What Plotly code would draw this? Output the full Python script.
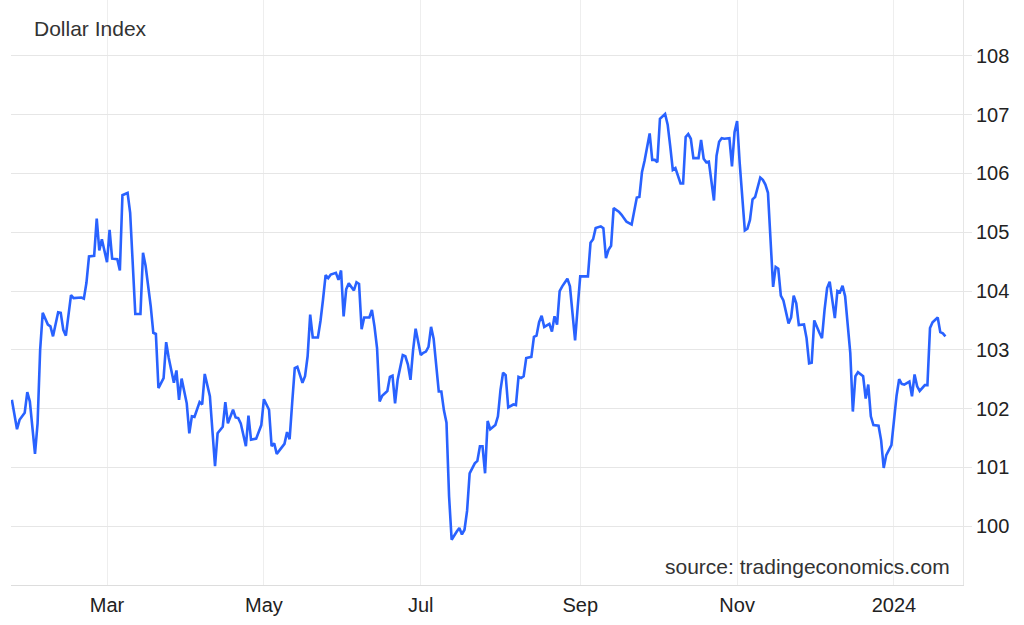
import plotly.graph_objects as go

# ---- data ----
dates = [
    "2023-01-23", "2023-01-25", "2023-01-26", "2023-01-28", "2023-01-29", "2023-01-30",
    "2023-02-01", "2023-02-02", "2023-02-03", "2023-02-04", "2023-02-06", "2023-02-07", "2023-02-08",
    "2023-02-10", "2023-02-11", "2023-02-12", "2023-02-13", "2023-02-15", "2023-02-16", "2023-02-17",
    "2023-02-19", "2023-02-20", "2023-02-21", "2023-02-22", "2023-02-24", "2023-02-25", "2023-02-26",
    "2023-02-27",
    "2023-03-01", "2023-03-02", "2023-03-03", "2023-03-05", "2023-03-06", "2023-03-07", "2023-03-09",
    "2023-03-10", "2023-03-11", "2023-03-12", "2023-03-14", "2023-03-15", "2023-03-16", "2023-03-18",
    "2023-03-19", "2023-03-20", "2023-03-21", "2023-03-23", "2023-03-24", "2023-03-25", "2023-03-27",
    "2023-03-28", "2023-03-29", "2023-03-30",
    "2023-04-01", "2023-04-02", "2023-04-03", "2023-04-04", "2023-04-06", "2023-04-07", "2023-04-08",
    "2023-04-10", "2023-04-12", "2023-04-13", "2023-04-15", "2023-04-16", "2023-04-17", "2023-04-19",
    "2023-04-20", "2023-04-21", "2023-04-22", "2023-04-24", "2023-04-25", "2023-04-26", "2023-04-28",
    "2023-04-29", "2023-04-30",
    "2023-05-01", "2023-05-03", "2023-05-04", "2023-05-05", "2023-05-06", "2023-05-08", "2023-05-09",
    "2023-05-10", "2023-05-11", "2023-05-12", "2023-05-13", "2023-05-14", "2023-05-16", "2023-05-17",
    "2023-05-18", "2023-05-19", "2023-05-20", "2023-05-22", "2023-05-23", "2023-05-24", "2023-05-25",
    "2023-05-26", "2023-05-27", "2023-05-29", "2023-05-30", "2023-05-31",
    "2023-06-01", "2023-06-02", "2023-06-03", "2023-06-05", "2023-06-06", "2023-06-07", "2023-06-08",
    "2023-06-09", "2023-06-11", "2023-06-12", "2023-06-13", "2023-06-14", "2023-06-15", "2023-06-16",
    "2023-06-18", "2023-06-19", "2023-06-20", "2023-06-21", "2023-06-22", "2023-06-24", "2023-06-25",
    "2023-06-26", "2023-06-27", "2023-06-28", "2023-06-29",
    "2023-07-01", "2023-07-02", "2023-07-03", "2023-07-04", "2023-07-05", "2023-07-06", "2023-07-08",
    "2023-07-09", "2023-07-10", "2023-07-11", "2023-07-12", "2023-07-13", "2023-07-15", "2023-07-16",
    "2023-07-17", "2023-07-18", "2023-07-19", "2023-07-20", "2023-07-22", "2023-07-23", "2023-07-24",
    "2023-07-25", "2023-07-26", "2023-07-27", "2023-07-28", "2023-07-30", "2023-07-31",
    "2023-08-01", "2023-08-02", "2023-08-03", "2023-08-04", "2023-08-06", "2023-08-07", "2023-08-08",
    "2023-08-09", "2023-08-10", "2023-08-11", "2023-08-13", "2023-08-14", "2023-08-15", "2023-08-16",
    "2023-08-17", "2023-08-18", "2023-08-20", "2023-08-21", "2023-08-22", "2023-08-23", "2023-08-24",
    "2023-08-25", "2023-08-27", "2023-08-28", "2023-08-29", "2023-08-30", "2023-08-31",
    "2023-09-01", "2023-09-03", "2023-09-04", "2023-09-05", "2023-09-06", "2023-09-07", "2023-09-09",
    "2023-09-10", "2023-09-11", "2023-09-12", "2023-09-13", "2023-09-14", "2023-09-16", "2023-09-17",
    "2023-09-18", "2023-09-19", "2023-09-21", "2023-09-22", "2023-09-23", "2023-09-24", "2023-09-25",
    "2023-09-26", "2023-09-28", "2023-09-29", "2023-09-30",
    "2023-10-01", "2023-10-02", "2023-10-04", "2023-10-05", "2023-10-06", "2023-10-07", "2023-10-08",
    "2023-10-10", "2023-10-11", "2023-10-12", "2023-10-13", "2023-10-14", "2023-10-15", "2023-10-17",
    "2023-10-18", "2023-10-19", "2023-10-20", "2023-10-21", "2023-10-23", "2023-10-24", "2023-10-25",
    "2023-10-26", "2023-10-27", "2023-10-29", "2023-10-30", "2023-10-31",
    "2023-11-01", "2023-11-02", "2023-11-04", "2023-11-05", "2023-11-06", "2023-11-07", "2023-11-08",
    "2023-11-10", "2023-11-11", "2023-11-12", "2023-11-13", "2023-11-15", "2023-11-16", "2023-11-17",
    "2023-11-18", "2023-11-19", "2023-11-21", "2023-11-22", "2023-11-23", "2023-11-24", "2023-11-25",
    "2023-11-27", "2023-11-28", "2023-11-29", "2023-11-30",
    "2023-12-01", "2023-12-03", "2023-12-04", "2023-12-05", "2023-12-06", "2023-12-07", "2023-12-09",
    "2023-12-10", "2023-12-11", "2023-12-12", "2023-12-13", "2023-12-15", "2023-12-16", "2023-12-17",
    "2023-12-18", "2023-12-20", "2023-12-21", "2023-12-22", "2023-12-23", "2023-12-24", "2023-12-26",
    "2023-12-27", "2023-12-28", "2023-12-29", "2023-12-30", "2023-12-31",
    "2024-01-02", "2024-01-03", "2024-01-04", "2024-01-05", "2024-01-07", "2024-01-08", "2024-01-09",
    "2024-01-10", "2024-01-11", "2024-01-13", "2024-01-14", "2024-01-15", "2024-01-16", "2024-01-18",
    "2024-01-19", "2024-01-20", "2024-01-21",
]

dxy = [
    102.15, 101.65, 101.81, 101.93, 102.28, 102.12,
    101.23, 101.75, 103.00, 103.63, 103.43, 103.40, 103.23,
    103.64, 103.63, 103.34, 103.24, 103.93, 103.88, 103.88,
    103.89, 103.87, 104.14, 104.59, 104.60, 105.23, 104.69,
    104.88,
    104.49, 105.04, 104.55, 104.54, 104.35, 105.63, 105.67,
    105.33, 104.54, 103.61, 103.61, 104.65, 104.43, 103.74,
    103.29, 103.27, 102.35, 102.52, 103.13, 102.86, 102.44,
    102.65, 102.15, 102.51,
    102.09, 101.58, 101.87, 101.86, 102.11, 102.07, 102.59,
    102.21, 101.02, 101.58, 101.69, 102.11, 101.75, 101.98,
    101.85, 101.84, 101.75, 101.36, 101.88, 101.47, 101.49,
    101.61, 101.72,
    102.16, 101.98, 101.36, 101.41, 101.23, 101.35, 101.40,
    101.60, 101.48, 102.10, 102.69, 102.71, 102.44, 102.55,
    102.89, 103.60, 103.21, 103.21, 103.49, 103.86, 104.27,
    104.22, 104.28, 104.31, 104.19, 104.35,
    103.57, 104.03, 104.13, 104.01, 104.15, 104.12, 103.35,
    103.55, 103.55, 103.68, 103.40, 103.03, 102.12, 102.22,
    102.30, 102.54, 102.56, 102.09, 102.49, 102.91, 102.89,
    102.75, 102.49, 102.99, 103.36,
    102.91, 102.95, 102.97, 103.05, 103.39, 103.19, 102.29,
    102.29, 101.97, 101.76, 100.51, 99.77, 99.91, 99.97,
    99.86, 99.94, 100.26, 100.90, 101.07, 101.11, 101.36,
    101.36, 100.90, 101.79, 101.65, 101.72, 101.87,
    102.32, 102.61, 102.57, 102.02, 102.07, 102.06, 102.54,
    102.52, 102.55, 102.86, 102.88, 103.22, 103.24, 103.47,
    103.58, 103.39, 103.44, 103.31, 103.57, 103.43, 104.00,
    104.08, 104.21, 104.08, 103.55, 103.16, 103.72,
    104.25, 104.25, 104.25, 104.82, 104.88, 105.07, 105.10,
    105.07, 104.56, 104.70, 104.77, 105.41, 105.35, 105.30,
    105.24, 105.18, 105.13, 105.35, 105.59, 105.60, 106.02,
    106.21, 106.68, 106.23, 106.23,
    106.19, 106.93, 107.01, 106.83, 106.46, 106.06, 106.09,
    105.83, 105.83, 106.62, 106.67, 106.59, 106.26, 106.26,
    106.57, 106.25, 106.19, 106.20, 105.54, 106.30, 106.54,
    106.60, 106.59, 106.60, 106.12, 106.70,
    106.89, 106.18, 105.03, 105.06, 105.21, 105.56, 105.60,
    105.93, 105.89, 105.81, 105.67, 104.07, 104.41, 104.38,
    103.92, 103.84, 103.45, 103.55, 103.92, 103.79, 103.42,
    103.43, 103.20, 102.77, 102.78,
    103.50, 103.29, 103.20, 103.68, 104.05, 104.16, 103.54,
    104.00, 103.98, 104.09, 103.91, 102.95, 101.95, 102.55,
    102.62, 102.55, 102.17, 102.41, 101.87, 101.72, 101.71,
    101.46, 100.99, 101.21, 101.31, 101.38,
    102.22, 102.50, 102.42, 102.41, 102.46, 102.21, 102.58,
    102.38, 102.30, 102.40, 102.40, 103.37, 103.47, 103.55,
    103.30, 103.28, 103.23,
]

tick_dates = ["2023-03-01", "2023-05-01", "2023-07-01", "2023-09-01", "2023-11-01", "2024-01-01"]
tick_labels = ["Mar", "May", "Jul", "Sep", "Nov", "2024"]
y_ticks = [100, 101, 102, 103, 104, 105, 106, 107, 108]

assert len(dates) == len(dxy)

FONT = "Liberation Sans, Arial, sans-serif"

fig = go.Figure()
fig.add_trace(go.Scatter(
    x=dates, y=dxy, mode="lines",
    line=dict(color="#2962ff", width=2.6),
    hoverinfo="x+y", showlegend=False,
))

fig.update_layout(
    width=1024, height=625,
    margin=dict(l=11, r=61, t=0, b=40),
    paper_bgcolor="white", plot_bgcolor="white",
    font=dict(family=FONT, size=20, color="#222"),
    xaxis=dict(
        type="date",
        range=["2023-01-22 16:00", "2024-01-27 20:00"],
        tickvals=tick_dates, ticktext=tick_labels,
        showgrid=True, gridcolor="#eeeeee", gridwidth=1,
        showline=True, linecolor="#dddddd", linewidth=1,
        ticks="outside", ticklen=2, tickcolor="rgba(0,0,0,0)",
        tickfont=dict(size=20, color="#222"),
        zeroline=False,
    ),
    yaxis=dict(
        side="right",
        range=[99.0, 108.95],
        tickvals=y_ticks,
        showgrid=True, gridcolor="#e6e6e6", gridwidth=1,
        showline=True, linecolor="#e6e6e6", linewidth=1,
        ticks="outside", ticklen=8, tickcolor="#e6e6e6",
        tickfont=dict(size=20, color="#222"),
        zeroline=False,
    ),
    annotations=[
        dict(text="Dollar Index", xref="paper", yref="paper",
             x=(32 - 11) / 952, y=(585 - 28) / 585, xanchor="left", yanchor="middle",
             showarrow=False, font=dict(size=21, color="#333", family=FONT)),
        dict(text="source: tradingeconomics.com", xref="paper", yref="paper",
             x=(952 - 11) / 952, y=(585 - 566) / 585, xanchor="right", yanchor="middle",
             showarrow=False, font=dict(size=21, color="#333", family=FONT)),
    ],
)

fig.write_html(
    "out.html",
    config={"displayModeBar": False},
    post_script="document.body.style.margin='0';document.body.style.overflow='hidden';",
)
